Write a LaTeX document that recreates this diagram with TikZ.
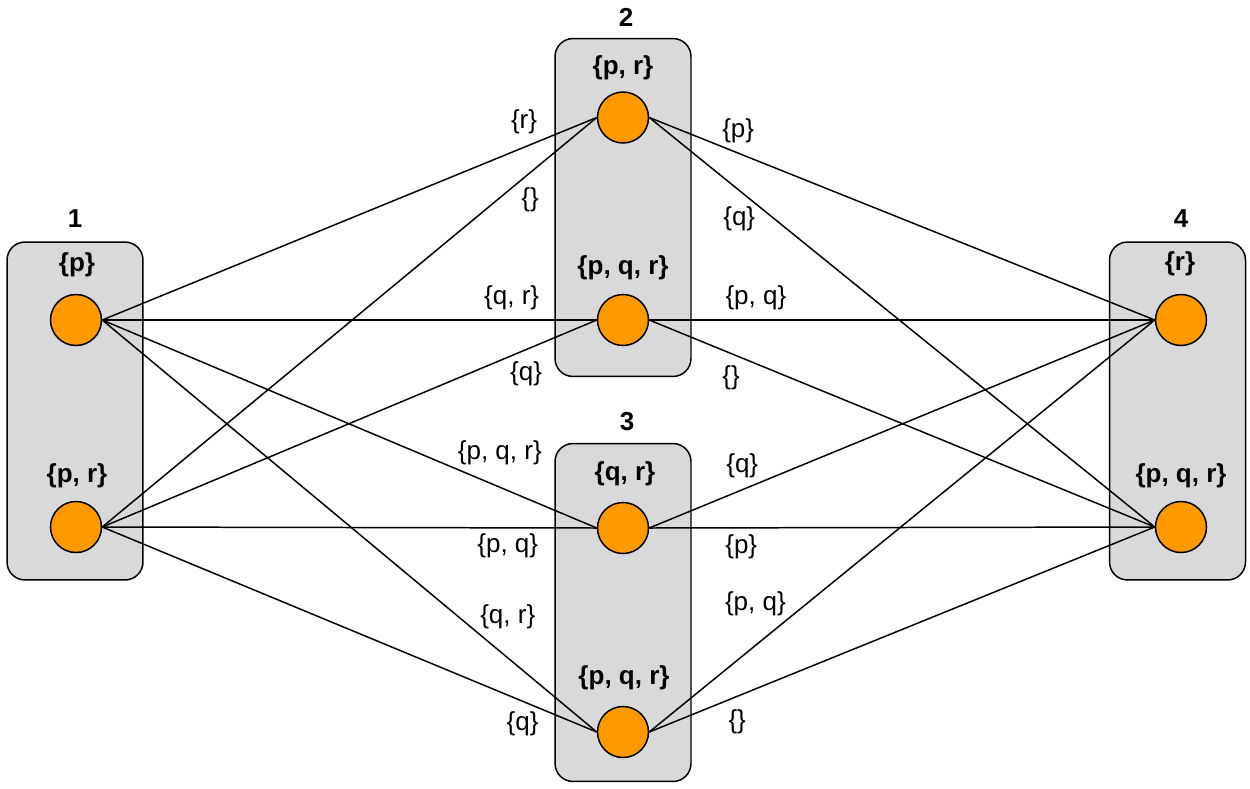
\documentclass[tikz,border=0pt]{standalone}
\usepackage{fontspec}
\setmainfont{Liberation Sans}
\usepackage{tikz}
\usetikzlibrary{
  arrows.meta,
  positioning,
  calc
}
\definecolor{ksGroup}{HTML}{D9D9D9}
\definecolor{ksState}{HTML}{FF9900}
\newcommand{\ksfont}{\fontsize{14.8pt}{17pt}\selectfont}
\tikzset{
  grp/.style={
    draw, rounded corners=0.36cm, fill=ksGroup, line width=0.85pt,
    minimum width=2.72cm, minimum height=6.76cm
  },
  grptitle/.style={font=\ksfont\bfseries, inner sep=0pt},
  state/.style={
    draw, circle, fill=ksState, line width=0.85pt,
    minimum size=1.02cm, inner sep=0pt
  },
  setlbl/.style={font=\ksfont\bfseries, inner sep=0pt},
  link/.style={line width=0.85pt, black},
  edgelbl/.style={font=\ksfont, inner sep=0pt}
}

\begin{document}
\begin{tikzpicture}[x=0.02cm, y=-0.02cm]
  \useasboundingbox (0,0) rectangle (1250,788);
  % groups
  \node[grp] (g1) at (75,411) {};
  \node[grp] (g2) at (623,207.5) {};
  \node[grp] (g3) at (623,612.5) {};
  \node[grp] (g4) at (1177.5,411) {};
  \node[grptitle] (t1) at (75,219) {1};
  \node[grptitle] (t2) at (626,17) {2};
  \node[grptitle] (t3) at (627,422) {3};
  \node[grptitle] (t4) at (1181,219) {4};
  % states
  \node[state] (s1a) at (76,320) {};
  \node[state] (s1b) at (76,527) {};
  \node[state] (s2a) at (623,117.5) {};
  \node[state] (s2b) at (623,320) {};
  \node[state] (s3a) at (623,528) {};
  \node[state] (s3b) at (623,732) {};
  \node[state] (s4a) at (1181,320) {};
  \node[state] (s4b) at (1181,527) {};
  \node[setlbl] (l1a) at (77,265) {\{p\}};
  \node[setlbl] (l1b) at (77,476) {\{p, r\}};
  \node[setlbl] (l2a) at (623,67.5) {\{p, r\}};
  \node[setlbl] (l2b) at (623,267.5) {\{p, q, r\}};
  \node[setlbl] (l3a) at (625,474) {\{q, r\}};
  \node[setlbl] (l3b) at (624,678) {\{p, q, r\}};
  \node[setlbl] (l4a) at (1180,264) {\{r\}};
  \node[setlbl] (l4b) at (1181,476) {\{p, q, r\}};
  % 1 -> 2, 3
  \draw[link] (s1a.east) -- node[edgelbl, pos=0.853, yshift=14.7pt] {\{r\}} (s2a.west);
  \draw[link] (s1b.east) -- node[edgelbl, pos=0.865, yshift=-15.6pt] {\{\}} (s2a.west);
  \draw[link] (s1a.east) -- node[edgelbl, pos=0.828, yshift=12.5pt] {\{q, r\}} (s2b.west);
  \draw[link] (s1b.east) -- node[edgelbl, pos=0.857, yshift=-13.5pt] {\{q\}} (s2b.west);
  \draw[link] (s1a.east) -- node[edgelbl, pos=0.804, yshift=19.5pt] {\{p, q, r\}} (s3a.west);
  \draw[link] (s1b.east) -- node[edgelbl, pos=0.82, yshift=-10.2pt] {\{p, q\}} (s3a.west);
  \draw[link] (s1a.east) -- node[edgelbl, pos=0.82, yshift=23.2pt] {\{q, r\}} (s3b.west);
  \draw[link] (s1b.east) -- node[edgelbl, pos=0.85, yshift=-12.8pt] {\{q\}} (s3b.west);
  % 2, 3 -> 4
  \draw[link] (s2a.east) -- node[edgelbl, pos=0.176, yshift=12.9pt] {\{p\}} (s4a.west);
  \draw[link] (s2a.east) -- node[edgelbl, pos=0.178, yshift=-16.4pt] {\{q\}} (s4b.west);
  \draw[link] (s2b.east) -- node[edgelbl, pos=0.211, yshift=12.5pt] {\{p, q\}} (s4a.west);
  \draw[link] (s2b.east) -- node[edgelbl, pos=0.162, yshift=-13.9pt] {\{\}} (s4b.west);
  \draw[link] (s3a.east) -- node[edgelbl, pos=0.184, yshift=13.6pt] {\{q\}} (s4a.west);
  \draw[link] (s3a.east) -- node[edgelbl, pos=0.182, yshift=-10.8pt] {\{p\}} (s4b.west);
  \draw[link] (s3b.east) -- node[edgelbl, pos=0.21, yshift=23.6pt] {\{p, q\}} (s4a.west);
  \draw[link] (s3b.east) -- node[edgelbl, pos=0.174, yshift=-14.6pt] {\{\}} (s4b.west);
\end{tikzpicture}
\end{document}
